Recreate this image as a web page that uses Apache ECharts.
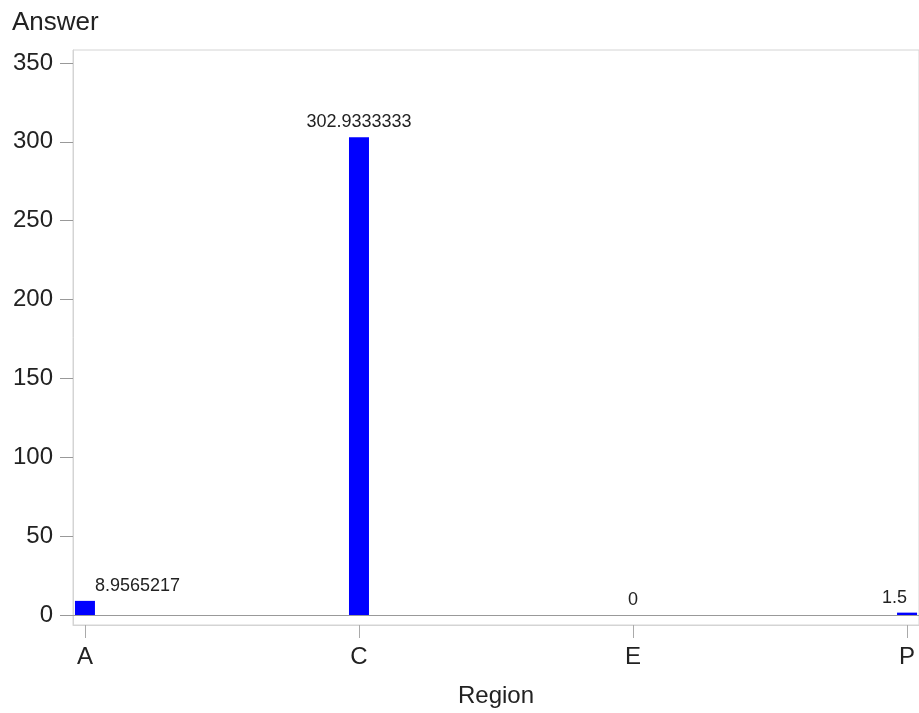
<!DOCTYPE html>
<html><head><meta charset="utf-8">
<script src="https://cdn.jsdelivr.net/npm/echarts@6/dist/echarts.min.js"></script>
<style>html,body{margin:0;padding:0;background:#fff}#c{width:919px;height:713px}</style>
</head><body><div id="c"></div>
<script>
const categories = ['A', 'C', 'E', 'P'];
const values = [8.9565217, 302.9333333, 0, 1.5];
const labels = ['8.9565217', '302.9333333', '0', '1.5'];
const yTicks = [0, 50, 100, 150, 200, 250, 300, 350];

const font = '"Liberation Sans", Arial, sans-serif';
const labelAlign = ['left', 'center', 'center', 'right'];
const labelShift = [10, 0, 0, 0];

const chart = echarts.init(document.getElementById('c'));
chart.setOption({
  animation: false,
  title: { text: 'Answer', left: 7, top: 5, textStyle: { fontFamily: font, fontSize: 26, fontWeight: 'normal', color: '#222' } },
  grid: { left: 73, right: -3, top: 50, bottom: 88, show: true, borderColor: '#d4d4d4', borderWidth: 1 },
  xAxis: {
    type: 'value', min: -12/275, max: 3 + 12/275,
    name: 'Region', nameLocation: 'middle', nameGap: 59,
    nameTextStyle: { fontFamily: font, fontSize: 24, color: '#222' },
    axisLine: { show: true, onZero: false, lineStyle: { color: '#d4d4d4' } },
    axisTick: { show: true, inside: false, length: 13, lineStyle: { color: '#aaa' }, customValues: categories.map((_, i) => i) },
    axisLabel: { fontFamily: font, fontSize: 24, color: '#222', margin: 20, customValues: categories.map((_, i) => i), formatter: v => categories[Math.round(v)] },
    splitLine: { show: false }
  },
  yAxis: {
    type: 'value', position: 'left', min: -10/(552/350), max: 350 + 13/(552/350),
    axisLine: { show: true, onZero: false, lineStyle: { color: '#d4d4d4' } },
    axisTick: { show: true, inside: false, length: 13, lineStyle: { color: '#999' }, customValues: yTicks },
    axisLabel: { fontFamily: font, fontSize: 24, color: '#222', margin: 20, customValues: yTicks },
    splitLine: { show: false }
  },
  series: [{
    type: 'bar', barWidth: 20,
    itemStyle: { color: '#0000ff' },
    data: values.map((v, i) => ({
      value: [i, v],
      label: { show: true, position: 'top', distance: 6, align: labelAlign[i], offset: [labelShift[i], 0],
        fontFamily: font, fontSize: 18, color: '#222', formatter: () => labels[i] }
    })),
    markLine: { silent: true, symbol: 'none', label: { show: false }, lineStyle: { color: '#999', type: 'solid', width: 1 }, data: [{ yAxis: 0 }] }
  }]
});
</script></body></html>
